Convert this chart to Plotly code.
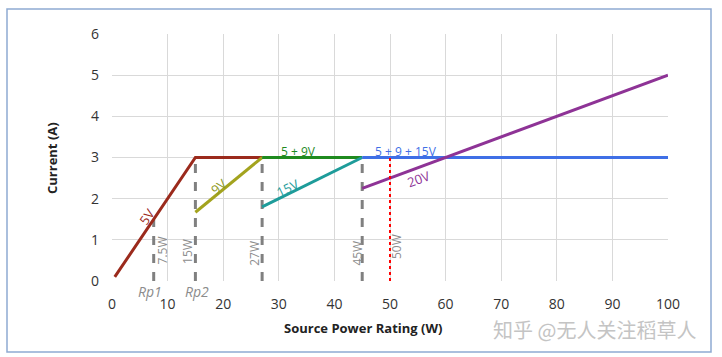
import plotly.graph_objects as go

# ---- data ----
v5_x = [0.5, 15, 27]
v5_y = [0.1, 3, 3]
v9_x = [15, 27]
v9_y = [1.67, 3]
v59_x = [27, 45]
v59_y = [3, 3]
v15_x = [27, 45]
v15_y = [1.8, 3]
v5915_x = [45, 100]
v5915_y = [3, 3]
v20_x = [45, 100]
v20_y = [2.25, 5]

rp_x = [7.5, 15, 27, 45]
rp_top = [1.5, 3, 3, 3]
rp_labels = ["7.5W", "15W", "27W", "45W"]
limit_x = 50
limit_top = 3
limit_label = "50W"

x_ticks = [0, 10, 20, 30, 40, 50, 60, 70, 80, 90, 100]
y_ticks = [0, 1, 2, 3, 4, 5, 6]

FONT = "Open Sans, Liberation Sans, sans-serif"
GREY = "#8c8c8c"

fig = go.Figure()

# dashed reference lines
for x, t in zip(rp_x, rp_top):
    fig.add_trace(go.Scatter(x=[x, x], y=[0, t], mode="lines",
                             line=dict(color="#808080", width=3, dash="dash"),
                             hoverinfo="skip", showlegend=False))

series = [
    (v5_x, v5_y, "#9b2a1c"),
    (v9_x, v9_y, "#a3a31e"),
    (v59_x, v59_y, "#1f8a1f"),
    (v15_x, v15_y, "#1e9c9a"),
    (v5915_x, v5915_y, "#3f6fe6"),
    (v20_x, v20_y, "#8e3396"),
]
for xs, ys, c in series:
    fig.add_trace(go.Scatter(x=xs, y=ys, mode="lines",
                             line=dict(color=c, width=3),
                             hoverinfo="skip", showlegend=False))

fig.add_trace(go.Scatter(x=[limit_x, limit_x], y=[0, limit_top], mode="lines",
                         line=dict(color="#ff0000", width=2, dash="dot"),
                         hoverinfo="skip", showlegend=False))

ann = []
def lab(text, x, y, color, angle=0, size=13):
    ann.append(dict(x=x, y=y, xref="x", yref="y", text=text, showarrow=False,
                    textangle=angle, xanchor="center", yanchor="middle",
                    font=dict(family=FONT, size=size, color=color)))

lab("5V", 6.2, 1.56, "#9b2a1c", -55)
lab("9V", 19.1, 2.29, "#8f9a1e", -40)
lab("15V", 31.6, 2.27, "#1e9c9a", -26)
lab("20V", 55.1, 2.49, "#8e3396", -20)
lab("5 + 9V", 33.6, 3.14, "#1f8a1f", 0, 12)
lab("5 + 9 + 15V", 52.9, 3.14, "#3f6fe6", 0, 12)

lab(rp_labels[0], 9.05, 0.75, GREY, -90, 12)
lab(rp_labels[1], 13.7, 0.71, GREY, -90, 12)
lab(rp_labels[2], 25.5, 0.68, GREY, -90, 12)
lab(rp_labels[3], 44.1, 0.67, GREY, -90, 12)
lab(limit_label, 51.3, 0.83, GREY, -90, 12)

for t, x in [("Rp1", 6.8), ("Rp2", 15.2)]:
    ann.append(dict(x=x, y=(281 - 291.5) / 247, xref="x", yref="paper",
                    text="<i>" + t + "</i>", showarrow=False,
                    xanchor="center", yanchor="middle",
                    font=dict(family=FONT, size=14, color=GREY)))

# axis titles
ann.append(dict(x=(52 - 112) / 556, y=(281 - 158) / 247, xref="paper", yref="paper",
                text="<b>Current (A)</b>", textangle=-90, showarrow=False,
                xanchor="center", yanchor="middle",
                font=dict(family=FONT, size=13, color="#222")))
ann.append(dict(x=(363 - 112) / 556, y=(281 - 328) / 247, xref="paper", yref="paper",
                text="<b>Source Power Rating (W)</b>", showarrow=False,
                xanchor="center", yanchor="middle",
                font=dict(family=FONT, size=13, color="#222")))
# watermark
ann.append(dict(x=(594 - 112) / 556, y=(281 - 329) / 247, xref="paper", yref="paper",
                text="知乎 @无人关注稻草人", showarrow=False,
                xanchor="center", yanchor="middle",
                font=dict(family="Noto Sans CJK SC", size=20, color="#c4c4c4")))

fig.update_layout(
    width=722, height=357,
    margin=dict(l=112, r=54, t=34, b=76),
    paper_bgcolor="white", plot_bgcolor="white",
    annotations=ann,
    shapes=[dict(type="rect", xref="paper", yref="paper",
                 x0=(7 - 112) / 556, x1=(711 - 112) / 556,
                 y0=(281 - 352) / 247, y1=(281 - 9) / 247,
                 line=dict(color="#8faad2", width=1.5), layer="below")],
    font=dict(family=FONT, size=13, color="#333"),
)
fig.update_xaxes(range=[0, 100], tickvals=x_ticks, showgrid=True, gridcolor="#d9d9d9",
                 gridwidth=1, zeroline=False, showline=False, ticks="",
                 ticklabelstandoff=13, tickfont=dict(size=14, color="#333"))
fig.update_yaxes(range=[0, 6], tickvals=y_ticks, showgrid=True, gridcolor="#d9d9d9",
                 gridwidth=1, zeroline=False, showline=False, ticks="",
                 ticklabelstandoff=12, tickfont=dict(size=14, color="#333"))

fig.write_html("out.html", config={"displayModeBar": False},
               post_script="document.body.style.margin='0';document.body.style.overflow='hidden';")
